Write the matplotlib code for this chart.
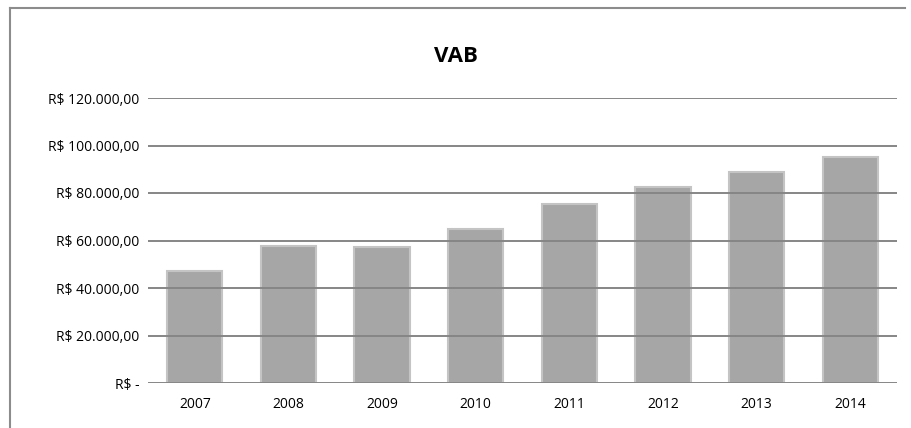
import matplotlib
matplotlib.use("Agg")
import matplotlib.pyplot as plt
from matplotlib.lines import Line2D

years = ["2007", "2008", "2009", "2010", "2011", "2012", "2013", "2014"]
vab = [47300, 57800, 57400, 65000, 75200, 82600, 89000, 95300]
yticks = [0, 20000, 40000, 60000, 80000, 100000, 120000]
ytick_labels = ["R$ -", "R$ 20.000,00", "R$ 40.000,00", "R$ 60.000,00",
                "R$ 80.000,00", "R$ 100.000,00", "R$ 120.000,00"]

plt.rcParams['font.family'] = ['Open Sans', 'DejaVu Sans']

fig = plt.figure(figsize=(9.11, 4.28), dpi=100)
ax = fig.add_axes([148/911, 1-383/428, (897-148)/911, (383-98)/428])

x = list(range(len(years)))
ax.bar(x, vab, width=0.59, color="#a6a6a6", zorder=2,
       edgecolor="#c4c4c4", linewidth=1.5)

for t in yticks:
    ax.axhline(t, color="#868686", linewidth=1.4, zorder=3)

ax.set_ylim(0, 120000)
ax.set_xlim(-0.5, len(years) - 0.5)
ax.set_yticks(yticks)
ax.set_yticklabels(ytick_labels, fontsize=10)
ax.set_xticks(x)
ax.set_xticklabels(years, fontsize=10)
ax.tick_params(axis='both', length=0, pad=6)
ax.tick_params(axis='x', pad=10)
for s in ax.spines.values():
    s.set_visible(False)

fig.text(0.5, 1-57/428, "VAB", ha="center", va="center", fontsize=16, fontweight="bold")

fig.add_artist(Line2D([10/911, 10/911], [0, 1-8/428], color="#8c8c8c", linewidth=1.5))
fig.add_artist(Line2D([10/911, 905/911], [1-8/428, 1-8/428], color="#8c8c8c", linewidth=1.5))

fig.savefig("out.png", dpi=100)
